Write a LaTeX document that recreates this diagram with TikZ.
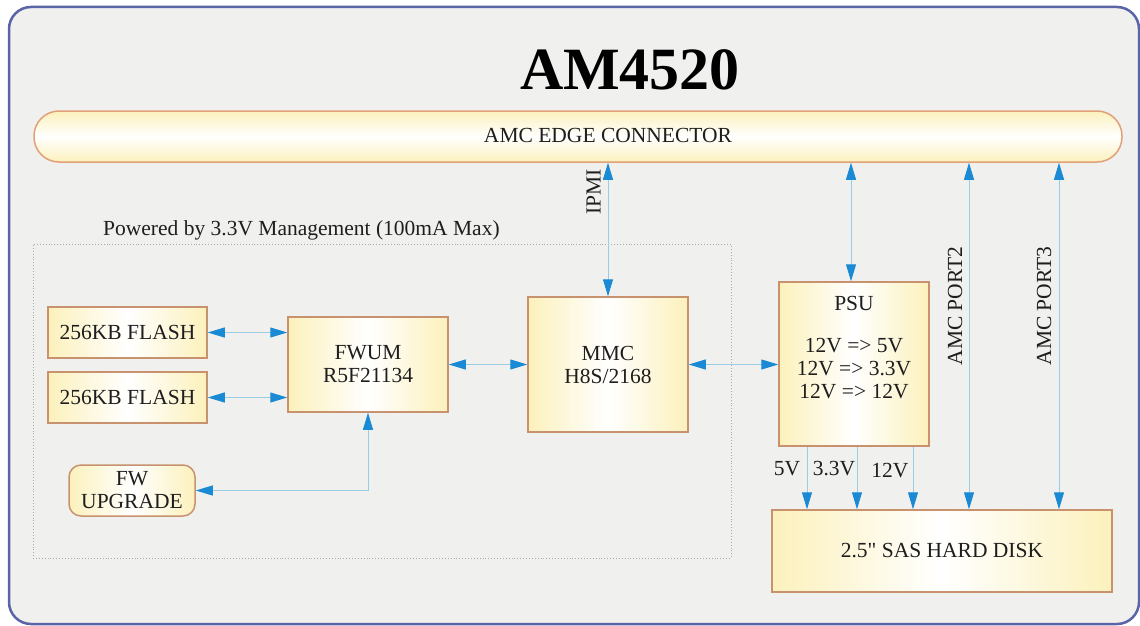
\documentclass[tikz,border=0pt]{standalone}
\usepackage{fontspec}
\setmainfont{Liberation Serif}
\usetikzlibrary{arrows.meta,calc}
\definecolor{bgc}{RGB}{240,240,238}
\definecolor{framec}{RGB}{92,100,168}
\definecolor{boxc}{RGB}{252,241,188}
\definecolor{borderc}{RGB}{200,146,110}
\definecolor{edgeborder}{RGB}{226,160,120}
\definecolor{linec}{RGB}{156,204,228}
\definecolor{headc}{RGB}{26,138,212}
\definecolor{txtc}{RGB}{30,30,30}
\definecolor{dotc}{RGB}{170,170,170}
\tikzset{
  blk/.style={draw=borderc, line width=1.5pt, left color=boxc, right color=boxc, middle color=white,
    text=txtc, font=\fontsize{21.5}{23}\selectfont, align=center, inner sep=0pt},
  edgebar/.style={draw=edgeborder, line width=1.5pt, top color=boxc, bottom color=boxc, middle color=white,
    inner sep=0pt},
  lbl/.style={text=txtc, font=\fontsize{21.5}{23}\selectfont, inner sep=0pt, align=center},
  conn/.style={draw=linec, line width=1pt, >={Triangle[length=17pt,width=10pt,color=headc]}},
}
\begin{document}
\begin{tikzpicture}[x=1pt,y=-1pt]
\useasboundingbox (0,0) rectangle (1140,626);
\fill[white] (0,0) rectangle (1140,626);
\draw[line width=2.5pt, draw=framec, fill=bgc, rounded corners=22pt] (9,7) rectangle (1139,624);

% title
\node[text=black, font=\fontsize{60}{60}\selectfont\bfseries, inner sep=0pt] (title) at (630,70) {AM4520};

% edge connector
\node[edgebar, minimum width=1088pt, minimum height=51pt, rounded corners=25pt] (edge) at (578,136.5) {};
\node[lbl] (edgetxt) at (608,135) {AMC EDGE CONNECTOR};

% management area
\node[draw=dotc, dotted, line width=0.9pt, minimum width=698pt, minimum height=314pt, inner sep=0pt] (mgmt) at (382,401) {};
\node[lbl, anchor=west] (mgmtlbl) at (103,230) {Powered by 3.3V Management (100mA Max)};

% blocks
\node[blk, minimum width=159pt, minimum height=51pt] (flash1) at (127.5,332.5) {256KB FLASH};
\node[blk, minimum width=159pt, minimum height=51pt] (flash2) at (127.5,397.5) {256KB FLASH};
\node[blk, minimum width=160pt, minimum height=95pt] (fwum) at (368,364.5) {FWUM\\R5F21134};
\node[blk, minimum width=126pt, minimum height=51pt, rounded corners=12pt] (fwup) at (132,490.5) {FW\\UPGRADE};
\node[blk, minimum width=160pt, minimum height=135pt] (mmc) at (608,364.5) {MMC\\H8S/2168};
\node[blk, minimum width=150pt, minimum height=164pt] (psu) at (854,364) {};
\node[lbl] (psutitle) at (854,303) {PSU};
\node[lbl] (psutext) at (854,369) {12V => 5V\\12V => 3.3V\\12V => 12V};
\node[blk, minimum width=340pt, minimum height=82pt] (disk) at (942,551) {2.5\textquotedbl{} SAS HARD DISK};

% connectors
\draw[conn,<->] (flash1.east) -- (flash1.east -| fwum.west);
\draw[conn,<->] (flash2.east) -- (flash2.east -| fwum.west);
\draw[conn,<->] (fwum.east) -- (fwum.east -| mmc.west);
\draw[conn,<->] (mmc.east) -- (mmc.east -| psu.west);
\draw[conn,<->] (fwum.south) |- (fwup.east);
\draw[conn,<->] (edge.south -| mmc.north) -- node[lbl, rotate=90, pos=0.22, above=7pt] (ipmi) {IPMI} (mmc.north);
\coordinate (cpsu) at (851,0);
\draw[conn,<->] (edge.south -| cpsu) -- (psu.north -| cpsu);

\coordinate (cp2) at (969,0);
\coordinate (cp3) at (1059,0);
\draw[conn,<->] (disk.north -| cp2) -- (edge.south -| cp2);
\draw[conn,<->] (disk.north -| cp3) -- (edge.south -| cp3);
\node[lbl, rotate=90] (port2) at (955,306) {AMC PORT2};
\node[lbl, rotate=90] (port3) at (1044,306) {AMC PORT3};

\coordinate (c5) at (807,0);
\coordinate (c33) at (857,0);
\coordinate (c12) at (913,0);
\draw[conn,->] (psu.south -| c5) -- (disk.north -| c5);
\draw[conn,->] (psu.south -| c33) -- (disk.north -| c33);
\draw[conn,->] (psu.south -| c12) -- (disk.north -| c12);
\node[lbl] (l5) at (787,469) {5V};
\node[lbl] (l33) at (834,469) {3.3V};
\node[lbl] (l12) at (890,471) {12V};
\end{tikzpicture}
\end{document}
